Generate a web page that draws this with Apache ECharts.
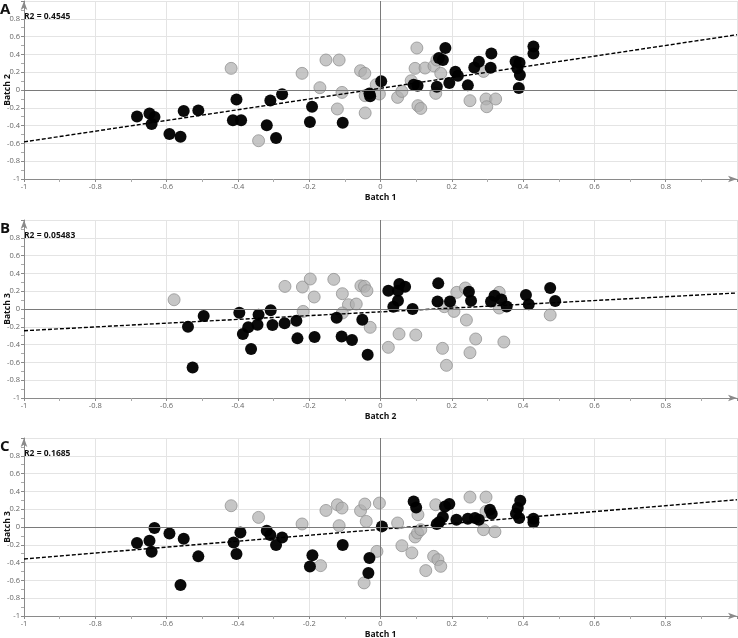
<!DOCTYPE html>
<html>
<head>
<meta charset="utf-8">
<title>Batch correlation</title>
<style>
	html, body { margin: 0; padding: 0; background: #fff; }
	#main { width: 738px; height: 638px; }
</style>
</head>
<body>
<div id="main"></div>
<script src="https://cdn.jsdelivr.net/npm/echarts@6/dist/echarts.min.js"></script>
<script>
	// panel A : Batch 1 vs Batch 2
	var blackA = [[-0.683,-0.297],[-0.648,-0.263],[-0.634,-0.303],[-0.642,-0.382],[-0.592,-0.494],[-0.561,-0.525],[-0.552,-0.236],[-0.511,-0.229],[-0.404,-0.106],[-0.414,-0.341],[-0.391,-0.341],[-0.309,-0.117],[-0.276,-0.049],[-0.319,-0.397],[-0.293,-0.539],[-0.192,-0.188],[-0.198,-0.36],[-0.106,-0.367],[-0.031,-0.04],[-0.029,-0.07],[0.002,0.097],[0.093,0.06],[0.104,0.048],[0.158,0.037],[0.164,0.36],[0.175,0.337],[0.182,0.472],[0.193,0.079],[0.21,0.206],[0.217,0.161],[0.245,0.052],[0.263,0.254],[0.276,0.318],[0.311,0.411],[0.309,0.251],[0.379,0.321],[0.39,0.307],[0.384,0.243],[0.391,0.169],[0.388,0.022],[0.429,0.49],[0.429,0.411]];
	var grayA = [[-0.419,0.243],[-0.22,0.187],[-0.153,0.337],[-0.116,0.337],[-0.17,0.026],[-0.108,-0.027],[-0.121,-0.213],[-0.342,-0.57],[-0.056,0.217],[-0.044,0.187],[-0.043,-0.064],[-0.043,-0.258],[-0.012,0.06],[-0.003,-0.045],[0.048,-0.083],[0.06,-0.016],[0.086,0.104],[0.102,0.472],[0.097,0.243],[0.125,0.247],[0.105,-0.176],[0.113,-0.207],[0.15,0.27],[0.158,0.337],[0.169,0.187],[0.155,-0.038],[0.251,-0.12],[0.289,0.209],[0.296,-0.101],[0.298,-0.188],[0.323,-0.101]];
	var fitA = [[-1,-0.583],[1,0.621]];

	// panel B : Batch 2 vs Batch 3
	var blackB = [[-0.54,-0.199],[-0.527,-0.656],[-0.496,-0.079],[-0.396,-0.042],[-0.386,-0.281],[-0.371,-0.206],[-0.363,-0.45],[-0.342,-0.064],[-0.345,-0.176],[-0.308,-0.015],[-0.303,-0.18],[-0.269,-0.161],[-0.236,-0.131],[-0.233,-0.33],[-0.185,-0.315],[-0.123,-0.098],[-0.109,-0.308],[-0.08,-0.348],[-0.051,-0.12],[-0.036,-0.513],[0.022,0.206],[0.053,0.281],[0.069,0.251],[0.049,0.206],[0.049,0.093],[0.036,0.026],[0.09,0.0],[0.162,0.288],[0.16,0.085],[0.195,0.085],[0.248,0.194],[0.254,0.093],[0.31,0.085],[0.32,0.149],[0.339,0.108],[0.354,0.029],[0.408,0.157],[0.416,0.052],[0.476,0.236],[0.49,0.09]];
	var grayB = [[-0.579,0.104],[-0.268,0.254],[-0.219,0.247],[-0.197,0.337],[-0.186,0.135],[-0.217,-0.027],[-0.131,0.333],[-0.107,0.172],[-0.09,0.048],[-0.068,0.056],[-0.107,-0.045],[-0.055,0.26],[-0.045,0.255],[-0.038,0.206],[-0.029,-0.206],[0.022,-0.431],[0.052,-0.281],[0.099,-0.292],[0.174,-0.442],[0.185,-0.633],[0.179,0.026],[0.206,-0.027],[0.214,0.187],[0.238,0.236],[0.241,-0.124],[0.267,-0.337],[0.251,-0.491],[0.333,0.187],[0.333,0.011],[0.346,-0.371],[0.476,-0.067]];
	var fitB = [[-1,-0.244],[1,0.18]];

	// panel C : Batch 1 vs Batch 3
	var blackC = [[-0.683,-0.18],[-0.648,-0.154],[-0.634,-0.011],[-0.642,-0.277],[-0.592,-0.072],[-0.552,-0.131],[-0.561,-0.651],[-0.511,-0.33],[-0.412,-0.173],[-0.404,-0.303],[-0.393,-0.061],[-0.319,-0.042],[-0.309,-0.09],[-0.276,-0.117],[-0.293,-0.202],[-0.191,-0.318],[-0.198,-0.445],[-0.106,-0.202],[-0.031,-0.348],[-0.034,-0.516],[0.004,0.007],[0.093,0.287],[0.1,0.22],[0.158,0.034],[0.165,0.056],[0.175,0.112],[0.181,0.231],[0.193,0.258],[0.213,0.082],[0.245,0.093],[0.265,0.101],[0.276,0.082],[0.307,0.194],[0.312,0.149],[0.392,0.295],[0.385,0.213],[0.38,0.149],[0.389,0.101],[0.429,0.093],[0.429,0.052]];
	var grayC = [[-0.419,0.239],[-0.342,0.108],[-0.22,0.034],[-0.153,0.186],[-0.121,0.25],[-0.108,0.213],[-0.116,0.015],[-0.168,-0.434],[-0.056,0.183],[-0.044,0.258],[-0.04,0.063],[-0.046,-0.628],[-0.003,0.269],[-0.01,-0.274],[0.048,0.045],[0.06,-0.21],[0.088,-0.291],[0.097,-0.112],[0.104,-0.067],[0.113,-0.03],[0.105,0.138],[0.127,-0.49],[0.149,-0.33],[0.155,0.25],[0.161,-0.367],[0.169,-0.442],[0.251,0.336],[0.296,0.336],[0.296,0.175],[0.289,-0.03],[0.321,-0.053]];
	var fitC = [[-1,-0.359],[1,0.306]];

	var panelLetters = ['A', 'B', 'C'];
	var r2Labels = ['R2 = 0.4545', 'R2 = 0.05483', 'R2 = 0.1685'];
	var xNames = ['Batch 1', 'Batch 2', 'Batch 1'];
	var yNames = ['Batch 2', 'Batch 3', 'Batch 3'];
	var panels = [
		{black: blackA, gray: grayA, fit: fitA},
		{black: blackB, gray: grayB, fit: fitB},
		{black: blackC, gray: grayC, fit: fitC}
	];
</script>
<script>
	var myChart = echarts.init(document.getElementById('main'));
	var FONT = '"Open Sans", "Noto Sans", sans-serif';
	var gridTops = [1, 220, 438];
	var GRID_H = 178;

	var tickFmt = function (v) {
		if (v >= 0.999) return '';
		return String(Math.round(v * 10) / 10);
	};

	function makeAxis(i, isX) {
		return {
			type: 'value',
			gridIndex: i,
			min: -1,
			max: 1,
			interval: 0.2,
			name: isX ? xNames[i] : yNames[i],
			nameLocation: 'middle',
			nameGap: isX ? 14 : 12,
			nameMoveOverlap: false,
			nameTextStyle: {fontFamily: FONT, fontSize: 8.5, fontWeight: 'bold', color: '#111'},
			axisLine: {
				show: true,
				onZero: false,
				symbol: ['none', 'arrow'],
				symbolSize: [5, 9],
				lineStyle: {color: '#8a8a8a', width: 1}
			},
			axisTick: {show: true, length: 3, lineStyle: {color: '#8a8a8a'}},
			minorTick: {show: true, splitNumber: 2, length: 3, lineStyle: {color: '#aaa'}},
			axisLabel: {
				fontFamily: FONT,
				fontSize: 7.5,
				color: '#666',
				margin: 4,
				formatter: tickFmt
			},
			splitLine: {show: true, lineStyle: {color: '#e4e4e4', width: 1}}
		};
	}

	var grids = [], xAxes = [], yAxes = [], series = [], graphics = [];
	for (var i = 0; i < 3; i++) {
		grids.push({left: 24, right: 1, top: gridTops[i], height: GRID_H, containLabel: false, outerBoundsMode: 'none'});
		xAxes.push(makeAxis(i, true));
		yAxes.push(makeAxis(i, false));
		series.push({
			type: 'scatter',
			xAxisIndex: i,
			yAxisIndex: i,
			symbolSize: 12,
			data: panels[i].gray,
			itemStyle: {color: '#b0b0b0', borderColor: '#8c8c8c', borderWidth: 1, opacity: 0.72},
			markLine: {
				silent: true,
				symbol: 'none',
				label: {show: false},
				lineStyle: {color: '#7a7a7a', type: 'solid', width: 1},
				data: [{xAxis: 0}, {yAxis: 0}]
			},
			z: 2
		});
		series.push({
			type: 'scatter',
			xAxisIndex: i,
			yAxisIndex: i,
			symbolSize: 12,
			data: panels[i].black,
			itemStyle: {color: '#000', opacity: 0.96},
			z: 3
		});
		series.push({
			type: 'line',
			xAxisIndex: i,
			yAxisIndex: i,
			data: panels[i].fit,
			symbol: 'none',
			silent: true,
			lineStyle: {color: '#000', width: 1.4, type: [4, 2]},
			z: 4
		});
		graphics.push({
			type: 'text',
			left: 0,
			top: gridTops[i] + 1,
			style: {text: panelLetters[i], font: 'bold 15px ' + FONT, fill: '#111'}
		});
		graphics.push({
			type: 'text',
			left: 24,
			top: gridTops[i] + 11,
			style: {text: r2Labels[i], font: 'bold 8.5px ' + FONT, fill: '#111'}
		});
	}

	myChart.setOption({
		backgroundColor: '#fff',
		animation: false,
		grid: grids,
		xAxis: xAxes,
		yAxis: yAxes,
		series: series,
		graphic: graphics
	});
</script>
</body>
</html>
